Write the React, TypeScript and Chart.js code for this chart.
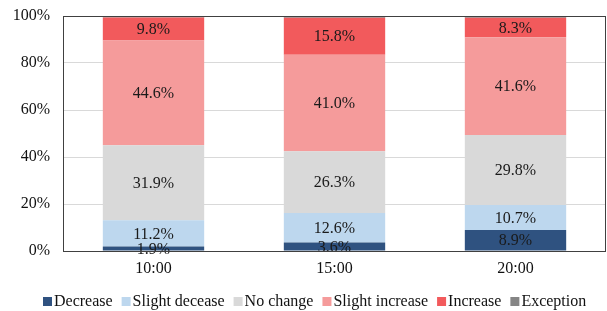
import React, { useEffect, useRef } from "react";
import { Chart, registerables } from "chart.js";

Chart.register(...registerables);

const categories = ["10:00", "15:00", "20:00"];
const decrease = [1.9, 3.6, 8.9];
const slightDecrease = [11.2, 12.6, 10.7];
const noChange = [31.9, 26.3, 29.8];
const slightIncrease = [44.6, 41.0, 41.6];
const increase = [9.8, 15.8, 8.3];
const exception = [0.6, 0.7, 0.7];
const yTicks = [0, 20, 40, 60, 80, 100];

const FONT = "'Liberation Serif', 'Times New Roman', serif";
Chart.defaults.font.family = FONT;

const labelPlugin = {
  id: "segLabels",
  afterDatasetsDraw(chart: any) {
    const ctx = chart.ctx;
    ctx.save();
    ctx.font = `16px ${FONT}`;
    ctx.fillStyle = "#1a1a1a";
    ctx.textAlign = "center";
    ctx.textBaseline = "middle";
    chart.data.datasets.forEach((ds: any, di: number) => {
      if (ds.label === "Exception") return;
      const meta = chart.getDatasetMeta(di);
      meta.data.forEach((el: any, i: number) => {
        const v = ds.data[i];
        const cy = (el.y + el.base) / 2;
        ctx.fillText(`${v.toFixed(1)}%`, el.x, cy + 1);
      });
    });
    ctx.restore();
  },
};

const boxPlugin = {
  id: "boxBorder",
  afterDraw(chart: any) {
    const { left, right, top, bottom } = chart.chartArea;
    const ctx = chart.ctx;
    ctx.save();
    ctx.strokeStyle = "#404040";
    ctx.lineWidth = 1;
    ctx.strokeRect(Math.round(left) + 0.5, Math.round(top) + 0.5, Math.round(right - left) - 1, Math.round(bottom - top));
    // custom legend
    ctx.font = `16px ${FONT}`;
    ctx.textBaseline = "middle";
    ctx.textAlign = "left";
    let x = 43;
    const yc = 301.5;
    chart.data.datasets.forEach((ds: any) => {
      ctx.fillStyle = ds.backgroundColor;
      ctx.fillRect(x, yc - 4.5, 9, 9);
      x += 11;
      ctx.fillStyle = "#111";
      ctx.fillText(ds.label, x, yc);
      x += ctx.measureText(ds.label).width + 9;
    });
    ctx.restore();
  },
};

export default function App() {
  const ref = useRef<HTMLCanvasElement>(null);
  useEffect(() => {
    document.body.style.margin = "0";
    const mk = (label: string, data: number[], color: string) => ({
      label,
      data,
      backgroundColor: color,
      borderWidth: 0,
      barPercentage: 0.56,
      categoryPercentage: 1,
    });
    const chart = new Chart(ref.current!, {
      type: "bar",
      data: {
        labels: categories,
        datasets: [
          mk("Decrease", decrease, "#2F5280"),
          mk("Slight decease", slightDecrease, "#BDD7EE"),
          mk("No change", noChange, "#D9D9D9"),
          mk("Slight increase", slightIncrease, "#F59B9B"),
          mk("Increase", increase, "#F25A5C"),
          mk("Exception", exception, "#858585"),
        ],
      },
      options: {
        responsive: false,
        animation: false,
        layout: { padding: { top: 16, right: 1, left: 0, bottom: 30 } },
        plugins: {
          tooltip: { enabled: false },
          legend: { display: false },
        },
        scales: {
          x: {
            stacked: true,
            grid: { display: false, drawTicks: false },
            border: { display: false },
            afterFit: (s: any) => { s.height = 30; },
            ticks: { color: "#111", font: { family: FONT, size: 16 }, padding: 8 },
          },
          y: {
            stacked: true,
            min: 0,
            max: 100,
            afterFit: (s: any) => { s.width = 63; },
            afterBuildTicks: (s: any) => { s.ticks = yTicks.map((v) => ({ value: v })); },
            grid: { color: "#D9D9D9", drawTicks: true, tickLength: 13, tickColor: "rgba(0,0,0,0)" },
            border: { display: false },
            ticks: {
              color: "#111",
              font: { family: FONT, size: 16 },
              padding: 0,
              callback: (v: any) => `${v}%`,
            },
          },
        },
      },
      plugins: [labelPlugin, boxPlugin],
    });
    return () => chart.destroy();
  }, []);
  return <canvas ref={ref} width={607} height={311} style={{ display: "block" }} />;
}
